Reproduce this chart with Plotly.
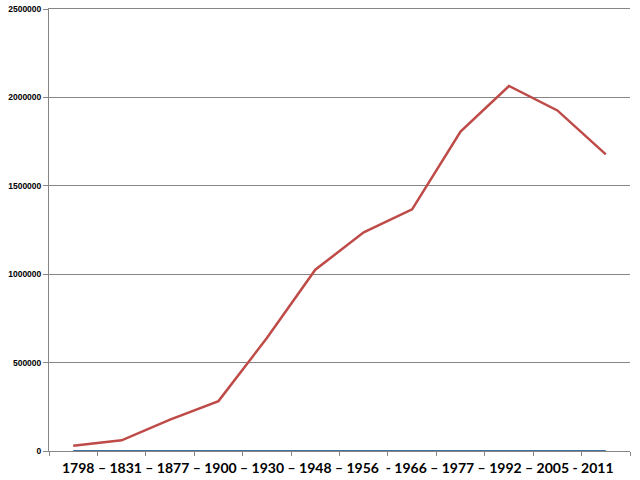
import plotly.graph_objects as go

categories = ["1798", "1831", "1877", "1900", "1930", "1948", "1956", "1966", "1977", "1992", "2005", "2011"]
population = [30030, 60587, 177646, 282078, 639040, 1025180, 1236905, 1366684, 1807239, 2064474, 1926334, 1677985]
baseline = [0] * len(categories)
axis_text = "1798 – 1831 – 1877 – 1900 – 1930 – 1948 – 1956  - 1966 – 1977 – 1992 – 2005 - 2011"
y_ticks = [0, 500000, 1000000, 1500000, 2000000, 2500000]

fig = go.Figure()
fig.add_trace(go.Scatter(x=categories, y=population, mode="lines",
                         line=dict(color="#BE4B48", width=2.5), showlegend=False))
fig.add_trace(go.Scatter(x=categories, y=baseline, mode="lines",
                         line=dict(color="#41729F", width=1.8), showlegend=False))

fig.update_layout(
    width=640, height=480,
    margin=dict(l=49, r=10, t=9, b=29, autoexpand=False),
    paper_bgcolor="white", plot_bgcolor="white",
    font=dict(family="Liberation Sans, Arial", color="black"),
)
fig.update_xaxes(
    type="category", tickson="boundaries", ticks="outside", ticklen=4,
    tickcolor="#868686", showticklabels=False, showgrid=False, automargin=False,
    showline=True, mirror=True, linecolor="#868686", linewidth=1, range=[-0.5, 11.5],
)
fig.update_yaxes(
    range=[0, 2500000], tickvals=y_ticks, ticktext=[str(v) for v in y_ticks],
    ticks="outside", ticklen=5, tickcolor="#868686", automargin=False,
    showgrid=True, gridcolor="#868686", gridwidth=1, ticklabeloverflow="allow",
    showline=True, linecolor="#868686", linewidth=1, zeroline=False,
    tickfont=dict(family="Liberation Sans, Arial", size=8.5, weight="bold", color="black"),
)
fig.add_annotation(
    text=axis_text, xref="paper", yref="paper", x=(338 - 49) / 581, y=0,
    yshift=-16, xanchor="center", yanchor="middle", showarrow=False,
    font=dict(family="Lato", size=14, weight="bold", color="black"),
)
fig.write_html("out.html", config={"displayModeBar": False},
               post_script="document.body.style.margin='0';")
